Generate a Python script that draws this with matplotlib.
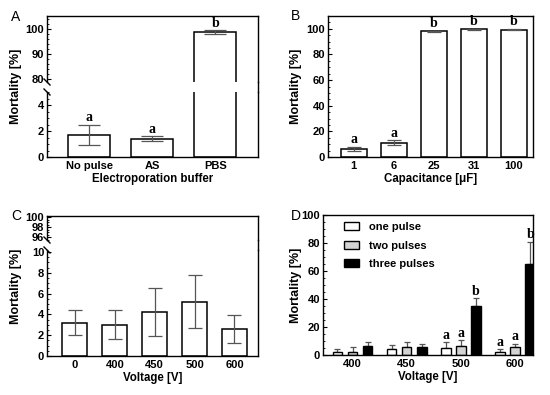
import numpy as np
import matplotlib
matplotlib.use('Agg')
import matplotlib.pyplot as plt
from matplotlib.lines import Line2D
from matplotlib.patches import Patch
from matplotlib.ticker import MultipleLocator

plt.rcParams['font.family'] = ['Liberation Sans', 'DejaVu Sans']
plt.rcParams['font.weight'] = 'bold'
plt.rcParams['axes.labelweight'] = 'bold'
plt.rcParams['font.size'] = 8

# panel A - electroporation buffer
buffers = ['No pulse', 'AS', 'PBS']
buf_mean = [1.7, 1.4, 98.7]
buf_err = [0.75, 0.2, 0.8]
buf_letters = ['a', 'a', 'b']

# panel B - capacitance
caps = ['1', '6', '25', '31', '100']
cap_mean = [6.2, 11.3, 98.0, 99.5, 99.3]
cap_err = [1.5, 1.8, 0.6, 0.5, 0.5]
cap_letters = ['a', 'a', 'b', 'b', 'b']

# panel C - voltage
volts = ['0', '400', '450', '500', '600']
volt_mean = [3.2, 3.0, 4.2, 5.2, 2.6]
volt_err = [1.2, 1.4, 2.3, 2.55, 1.35]

# panel D - voltage x number of pulses
volts_d = ['400', '450', '500', '600']
one_pulse = [2.5, 4.0, 5.0, 2.0]
one_err = [2.0, 3.0, 4.0, 2.0]
two_pulses = [2.5, 6.0, 6.5, 5.5]
two_err = [3.0, 3.5, 4.0, 2.5]
three_pulses = [6.5, 5.5, 35.0, 65.0]
three_err = [3.0, 2.5, 5.5, 16.0]
one_letters = ['', '', 'a', 'a']
two_letters = ['', '', 'a', 'a']
three_letters = ['', '', 'b', 'b']

W, H = 550, 395
fig = plt.figure(figsize=(W / 100, H / 100), dpi=100)


def px_axes(x0, y0, x1, y1):
    return fig.add_axes([x0 / W, 1 - y1 / H, (x1 - x0) / W, (y1 - y0) / H])


def fig_line(x0, y0, x1, y1, lw=1.0):
    fig.add_artist(Line2D([x0 / W, x1 / W], [1 - y0 / H, 1 - y1 / H],
                          transform=fig.transFigure, color='black', lw=lw))


def style(ax, major, minor, xticks=True):
    for s in ax.spines.values():
        s.set_linewidth(1.0)
    ax.yaxis.set_major_locator(MultipleLocator(major))
    ax.yaxis.set_minor_locator(MultipleLocator(minor))
    ax.tick_params(axis='y', which='major', direction='in', length=3, width=0.8, pad=2, labelsize=8)
    ax.tick_params(axis='y', which='minor', direction='in', length=1.5, width=0.6)
    if xticks:
        ax.tick_params(axis='x', direction='in', length=2, width=0.8, pad=3, labelsize=8)
    else:
        ax.tick_params(axis='x', bottom=False, labelbottom=False)


def letter(ax, x, y, s):
    if s:
        ax.annotate(s, (x, y), xytext=(0, 0.5), textcoords='offset points',
                    ha='center', va='bottom', family='Liberation Serif',
                    fontsize=10, weight='bold')


def ylabel(x, y):
    fig.text(x / W, 1 - y / H, 'Mortality [%]', rotation=90, ha='center', va='center',
             fontsize=9, weight='bold')


errkw = dict(ecolor='#555555', elinewidth=0.9, capthick=0.9)

# ---------- A ----------
axA_top = px_axes(47, 16, 258, 82)
axA_bot = px_axes(47, 92, 258, 157)
x = np.arange(len(buffers))
for ax in (axA_top, axA_bot):
    ax.bar(x, buf_mean, width=0.66, color='white', edgecolor='black', lw=1.1, zorder=2)
    ax.errorbar(x, buf_mean, yerr=buf_err, fmt='none', capsize=8, zorder=3, **errkw)
    ax.set_xlim(-0.67, 2.68)
axA_top.set_ylim(79, 105.2)
axA_bot.set_ylim(0, 5)
axA_top.spines['bottom'].set_visible(False)
axA_bot.spines['top'].set_visible(False)
style(axA_top, 10, 2, xticks=False)
style(axA_bot, 2, 0.5)
axA_bot.set_yticks([0, 2, 4])
axA_bot.set_xticks(x)
axA_bot.set_xticklabels(buffers)
axA_bot.set_xlabel('Electroporation buffer', fontsize=8.3, labelpad=1)
for i in range(len(buffers)):
    ax = axA_top if buf_mean[i] > 50 else axA_bot
    letter(ax, i, buf_mean[i] + buf_err[i], buf_letters[i])
fig_line(258, 82, 258, 92)
fig_line(44, 79, 50, 85)
fig_line(44, 89, 50, 95)
ylabel(16, 86)
fig.text(11 / W, 1 - 17 / H, 'A', fontsize=10, weight='normal', va='center')

# ---------- B ----------
axB = px_axes(328, 16, 533, 157)
x = np.arange(len(caps))
axB.bar(x, cap_mean, width=0.65, color='white', edgecolor='black', lw=1.1, zorder=2)
axB.errorbar(x, cap_mean, yerr=cap_err, fmt='none', capsize=5, zorder=3, **errkw)
axB.set_xlim(-0.64, 4.48)
axB.set_ylim(0, 110)
style(axB, 20, 5)
axB.set_yticks([0, 20, 40, 60, 80, 100])
axB.set_xticks(x)
axB.set_xticklabels(caps)
axB.set_xlabel('Capacitance [\u03bcF]', fontsize=8.3, labelpad=1)
for i in range(len(caps)):
    letter(axB, i, cap_mean[i] + cap_err[i], cap_letters[i])
ylabel(296, 86)
fig.text(291 / W, 1 - 16 / H, 'B', fontsize=10, weight='normal', va='center')

# ---------- C ----------
axC_top = px_axes(47, 216, 258, 240)
axC_bot = px_axes(47, 250, 258, 356)
x = np.arange(len(volts))
for ax in (axC_top, axC_bot):
    ax.bar(x, volt_mean, width=0.63, color='white', edgecolor='black', lw=1.1, zorder=2)
    ax.errorbar(x, volt_mean, yerr=volt_err, fmt='none', capsize=5, zorder=3, **errkw)
    ax.set_xlim(-0.7, 4.59)
axC_top.set_ylim(95.4, 100.2)
axC_bot.set_ylim(0, 10.2)
axC_top.spines['bottom'].set_visible(False)
axC_bot.spines['top'].set_visible(False)
style(axC_top, 2, 0.5, xticks=False)
style(axC_bot, 2, 0.5)
axC_top.set_yticks([96, 98, 100])
axC_bot.set_yticks([0, 2, 4, 6, 8, 10])
axC_bot.set_xticks(x)
axC_bot.set_xticklabels(volts)
axC_bot.set_xlabel('Voltage [V]', fontsize=8.3, labelpad=1)
fig_line(258, 240, 258, 250)
fig_line(44, 237, 50, 243)
fig_line(44, 247, 50, 253)
ylabel(16, 286)
fig.text(11 / W, 1 - 216 / H, 'C', fontsize=10, weight='normal', va='center')

# ---------- D ----------
axD = px_axes(323, 215, 533, 355)
x = np.arange(len(volts_d))
off = 0.278
bw = 0.176
series = [(one_pulse, one_err, one_letters, 'white', 'one pulse'),
          (two_pulses, two_err, two_letters, '#d3d3d3', 'two pulses'),
          (three_pulses, three_err, three_letters, 'black', 'three pulses')]
handles = []
for k, (vals, err, lets, col, lab) in enumerate(series):
    xs = x + (k - 1) * off
    axD.bar(xs, vals, width=bw, color=col, edgecolor='black', lw=1.0, zorder=2)
    axD.errorbar(xs, vals, yerr=[np.zeros(len(vals)), err], fmt='none', capsize=2.5, zorder=1,
                 ecolor='#555555', elinewidth=0.9, capthick=0.9)
    for i in range(len(vals)):
        letter(axD, xs[i], vals[i] + err[i], lets[i])
    handles.append(Patch(facecolor=col, edgecolor='black', lw=1.0, label=lab))
axD.set_xlim(-0.545, 3.33)
axD.set_ylim(0, 100)
style(axD, 20, 5)
axD.set_xticks(x)
axD.set_xticklabels(volts_d)
axD.tick_params(axis='x', length=0)
axD.set_xlabel('Voltage [V]', fontsize=8.3, labelpad=1)
axD.legend(handles=handles, frameon=False, loc='upper left', bbox_to_anchor=(0.05, 1.02),
           handlelength=1.4, handleheight=0.7, labelspacing=0.75, handletextpad=0.9, fontsize=8)
ylabel(296, 285)
fig.text(291 / W, 1 - 216 / H, 'D', fontsize=10, weight='normal', va='center')

fig.savefig('out.png', dpi=100)
